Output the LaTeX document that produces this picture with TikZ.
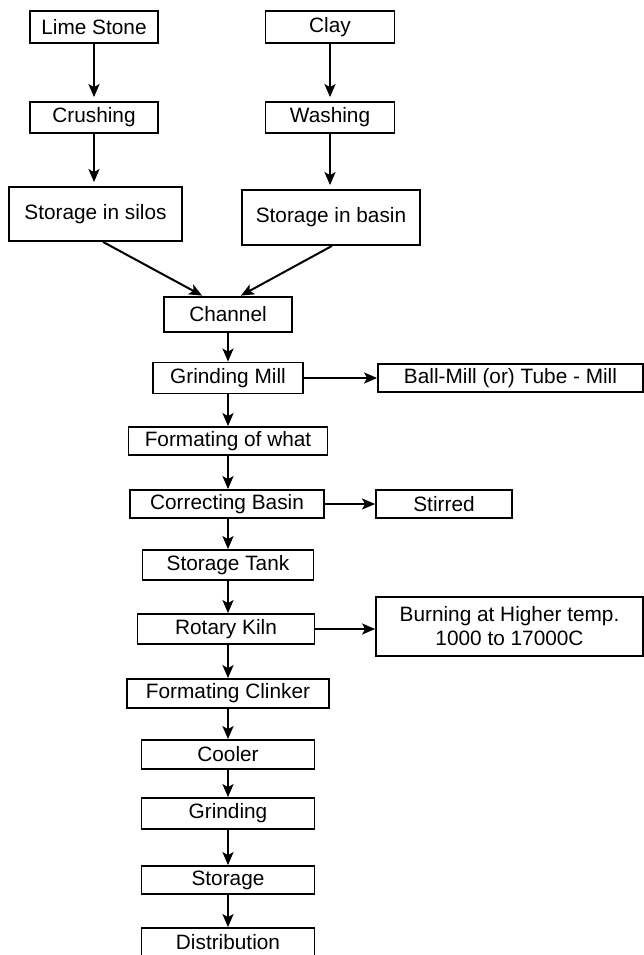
\documentclass[tikz,border=0pt]{standalone}
\usepackage{fontspec}
\setmainfont{Liberation Sans}
\usetikzlibrary{arrows.meta,calc}
\begin{document}
\begin{tikzpicture}[x=1pt,y=-1pt,
  box/.style={draw,line width=1.8pt,inner sep=0pt,font=\fontsize{20.8}{24}\selectfont},
  arr/.style={line width=2pt,-{Stealth[length=13pt,width=11pt,inset=3pt]}}]
\useasboundingbox (0,0) rectangle (644,955);
\node[box,minimum width=128,minimum height=32] (lime) at (94,27) {Lime Stone};
\node[box,minimum width=129,minimum height=32] (clay) at (330,27) {Clay};
\node[box,minimum width=128,minimum height=31] (crush) at (94,117.5) {Crushing};
\node[box,minimum width=129,minimum height=31] (wash) at (330,117.5) {Washing};
\node[box,minimum width=173,minimum height=54] (silos) at (95.5,214) {Storage in silos};
\node[box,minimum width=178,minimum height=55] (basin) at (331,217.5) {Storage in basin};
\node[box,minimum width=128,minimum height=35] (channel) at (228,314.5) {Channel};
\node[box,minimum width=150,minimum height=31] (gmill) at (228,378) {Grinding Mill};
\node[box,minimum width=265,minimum height=28] (ball) at (510.5,378) {Ball-Mill (or) Tube - Mill};
\node[box,minimum width=199,minimum height=28] (form) at (228,441) {Formating of what};
\node[box,minimum width=194,minimum height=28] (correct) at (227,504) {Correcting Basin};
\node[box,minimum width=136,minimum height=28] (stirred) at (444,504) {Stirred};
\node[box,minimum width=171,minimum height=30] (tank) at (228,565) {Storage Tank};
\node[box,minimum width=177,minimum height=30] (kiln) at (226,629) {Rotary Kiln};
\node[box,minimum width=267,minimum height=59,align=center] (burn) at (509.5,626.5) {Burning at Higher temp.\\1000 to 17000C};
\node[box,minimum width=202,minimum height=29] (clinker) at (228,693.5) {Formating Clinker};
\node[box,minimum width=173,minimum height=29] (cooler) at (228,754.5) {Cooler};
\node[box,minimum width=173,minimum height=31] (grind) at (228,813.5) {Grinding};
\node[box,minimum width=173,minimum height=28] (storage) at (228,880) {Storage};
\node[box,minimum width=173,minimum height=28] (dist) at (228,942) {Distribution};
% connectors
\draw[arr,shorten >=4pt] (lime.south) -- (lime.south |- crush.north);
\draw[arr,shorten >=4pt] (clay.south) -- (clay.south |- wash.north);
\draw[arr,shorten >=4pt] (crush.south) -- (crush.south |- silos.north);
\draw[arr,shorten >=4pt] (wash.south) -- (wash.south |- basin.north);
\draw[arr,shorten >=1pt] ([xshift=7.5pt]silos.south) -- ([xshift=-25pt]channel.north);
\draw[arr,shorten >=1pt] ([xshift=1pt]basin.south) -- ([xshift=12pt]channel.north);
\draw[arr] (channel.south) -- (channel.south |- gmill.north);
\draw[arr] (gmill.south) -- (gmill.south |- form.north);
\draw[arr] (form.south) -- (form.south |- correct.north);
\draw[arr] (form.south |- correct.south) -- (form.south |- tank.north);
\draw[arr] (tank.south) -- (tank.south |- kiln.north);
\draw[arr] (tank.south |- kiln.south) -- (tank.south |- clinker.north);
\draw[arr] (clinker.south) -- (clinker.south |- cooler.north);
\draw[arr] (cooler.south) -- (cooler.south |- grind.north);
\draw[arr] (grind.south) -- (grind.south |- storage.north);
\draw[arr] (storage.south) -- (storage.south |- dist.north);
\draw[arr] (gmill.east) -- (gmill.east -| ball.west);
\draw[arr] (correct.east) -- (correct.east -| stirred.west);
\draw[arr] (kiln.east) -- (kiln.east -| burn.west);
\end{tikzpicture}
\end{document}
